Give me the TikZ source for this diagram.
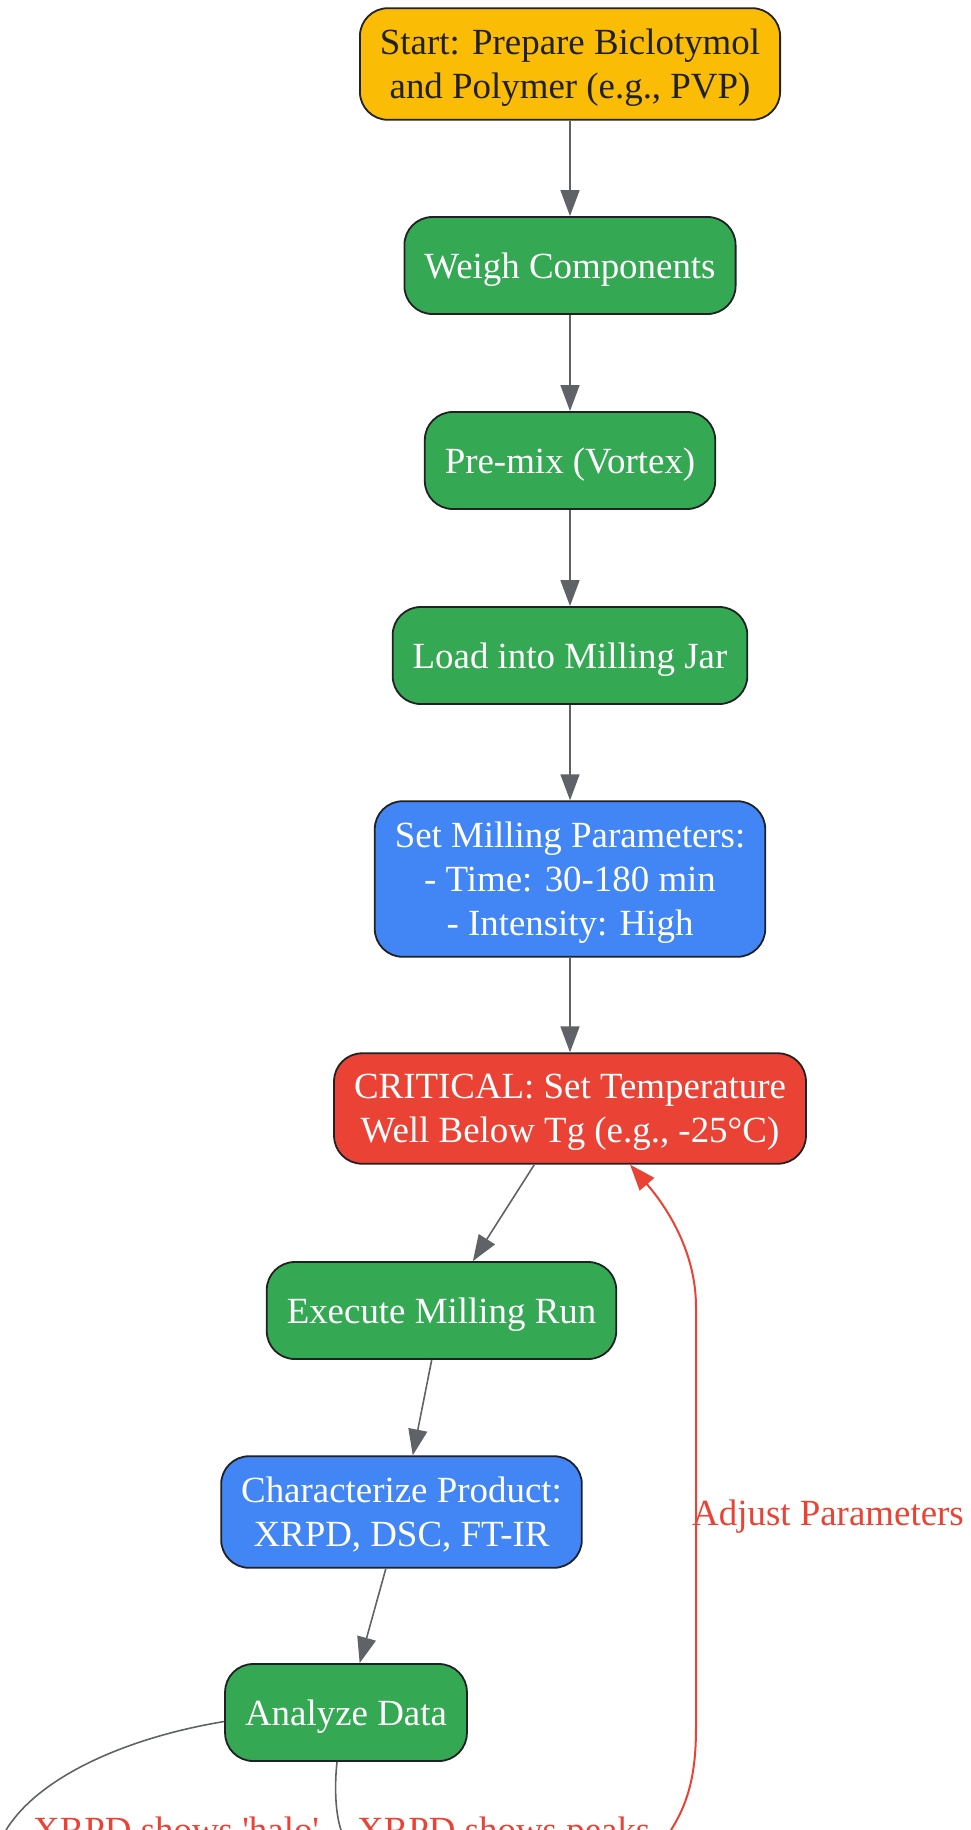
\documentclass[tikz,border=0pt]{standalone}
\usepackage{fontspec}
\setmainfont{Liberation Serif}
\usepackage{tikz}
\usetikzlibrary{positioning,%
  arrows.meta%
}

\definecolor{startyellow}{HTML}{FBBC05}
\definecolor{stepgreen}{HTML}{34A853}
\definecolor{stepblue}{HTML}{4285F4}
\definecolor{critred}{HTML}{EA4335}
\definecolor{edgegray}{HTML}{5F6368}
\definecolor{darktext}{HTML}{202124}

\tikzset{
  box/.style={draw=darktext, line width=1.8pt, rounded corners=28pt, align=center,
    inner xsep=20pt, inner ysep=21pt, text depth=-5pt, minimum height=97pt, text=white,
    font=\fontsize{36.9pt}{44pt}\selectfont},
  startbox/.style={box, fill=startyellow, text=darktext},
  greenbox/.style={box, fill=stepgreen},
  bluebox/.style={box, fill=stepblue},
  redbox/.style={box, fill=critred},
  flow/.style={draw=edgegray, line width=1.6pt, -{Triangle[length=26pt,width=19pt]}},
  loopback/.style={draw=critred, line width=2pt, -{Triangle[length=26pt,width=19pt]}},
  choice/.style={draw=edgegray, line width=1.6pt},
  edgelabel/.style={text=critred, inner sep=0pt, font=\fontsize{36.9pt}{44pt}\selectfont}
}

\begin{document}
\begin{tikzpicture}[x=1pt,y=-1pt]
            \path[use as bounding box, clip] (0,0) rectangle (970,1830);

            \node[startbox] (start) at (570,64) {Start: Prepare Biclotymol\\and Polymer (e.g., PVP)};
            \node[greenbox] (weigh) at (570,265.5) {Weigh Components};
            \node[greenbox] (premix) at (570,460.5) {Pre-mix (Vortex)};
            \node[greenbox] (load) at (570,655.5) {Load into Milling Jar};
            \node[bluebox] (params) at (570,879) {Set Milling Parameters:\\- Time: 30-180 min\\- Intensity: High};
            \node[redbox] (critical) at (570,1108.5) {CRITICAL: Set Temperature\\Well Below Tg (e.g., -25°C)};
            \node[greenbox] (execute) at (441.5,1310.5) {Execute Milling Run};
            \node[bluebox] (characterize) at (401.5,1512) {Characterize Product:\\XRPD, DSC, FT-IR};
            \node[greenbox] (analyze) at (346,1712.5) {Analyze Data};

            \draw[flow] (start) -- (weigh);
            \draw[flow] (weigh) -- (premix);
            \draw[flow] (premix) -- (load);
            \draw[flow] (load) -- (params);
            \draw[flow] (params) -- (critical);
            \draw[flow] (critical) -- (execute);
            \draw[flow] (execute) -- (characterize);
            \draw[flow] (characterize) -- (analyze);

            \coordinate (haloend) at (6,1830);
            \coordinate (peaksend) at (341,1830);
            \coordinate (retry) at (671,1830);
            \draw[choice] ([yshift=-9pt]analyze.west) .. controls (130,1737) and (40,1775) .. (haloend);
            \draw[choice] ([xshift=-9pt]analyze.south) .. controls (334,1790) and (336,1815) .. (peaksend);
            \draw[loopback] (retry) .. controls (690,1800) and (696,1770) .. (696,1727)
              -- (696,1307) .. controls (696,1250) and (665,1205) .. ([xshift=60pt]critical.south);

            \node[edgelabel, anchor=west] (adjust) at (692,1517) {Adjust Parameters};
            \node[edgelabel, anchor=base west] (halo) at (33,1842) {XRPD shows \textquotesingle halo\textquotesingle};
            \node[edgelabel, anchor=base west] (peaks) at (357,1842) {XRPD shows peaks};
        \end{tikzpicture}
\end{document}
